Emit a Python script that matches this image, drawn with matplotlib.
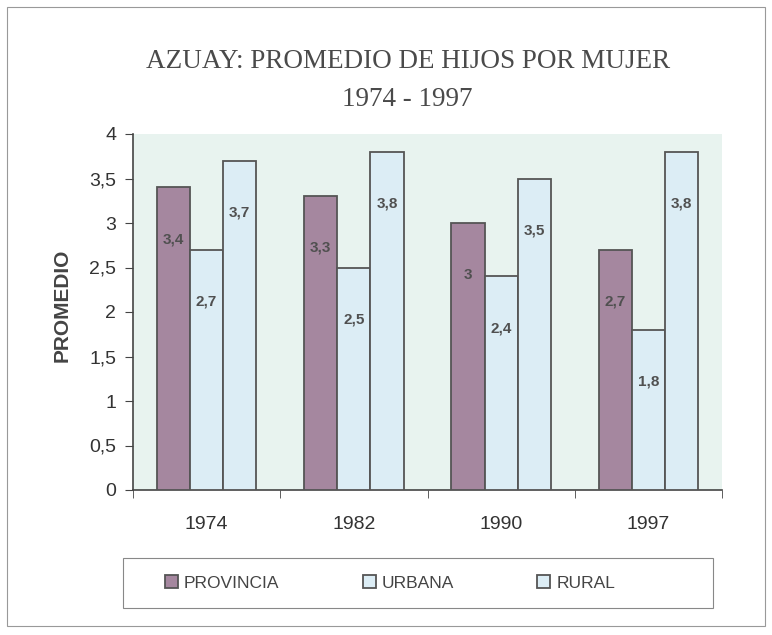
import matplotlib
matplotlib.use("Agg")
import matplotlib.pyplot as plt
import numpy as np

years = ["1974", "1982", "1990", "1997"]
provincia = [3.4, 3.3, 3.0, 2.7]
urbana = [2.7, 2.5, 2.4, 1.8]
rural = [3.7, 3.8, 3.5, 3.8]
series_names = ["PROVINCIA", "URBANA", "RURAL"]
yticks = [0, 0.5, 1, 1.5, 2, 2.5, 3, 3.5, 4]

fig = plt.figure(figsize=(7.72, 6.35), dpi=100)
fig.patch.set_facecolor("white")
W, H = 772, 635
ax = fig.add_axes([133 / W, 1 - 490 / H, (722 - 133) / W, (490 - 134) / H])
ax.set_facecolor("#e8f3ef")

x = np.arange(len(years))
bw = 0.225
cols = ["#a5879f", "#dcedf5", "#dcedf5"]
edge = "#555555"
for i, (vals, c) in enumerate(zip([provincia, urbana, rural], cols)):
    pos = x + (i - 1) * bw
    ax.bar(pos, vals, bw, color=c, edgecolor=edge, linewidth=1.3,
           label=series_names[i], zorder=3)
    for p, v in zip(pos, vals):
        s = ("%g" % v).replace(".", ",")
        ax.text(p, v - 0.58, s, ha="center", va="center", fontsize=11,
                fontweight="bold", color="#505050", family="Liberation Sans",
                zorder=4)

ax.set_xlim(-0.5, len(years) - 0.5)
ax.set_ylim(0, 4)
ax.set_yticks(yticks)
ax.set_yticklabels([("%g" % t).replace(".", ",") for t in yticks],
                   fontsize=14, family="Liberation Sans", color="#333333")
ax.set_xticks(x)
ax.set_xticklabels(years, fontsize=14, family="Liberation Sans", color="#333333")
ax.set_xticks(np.arange(len(years) + 1) - 0.5, minor=True)
ax.tick_params(axis="x", which="major", length=0, pad=19)
ax.tick_params(axis="x", which="minor", length=6, color="#444444", direction="out")
ax.tick_params(axis="y", length=6, color="#444444", direction="out", pad=6)
for s in ["top", "right"]:
    ax.spines[s].set_visible(False)
for s in ["left", "bottom"]:
    ax.spines[s].set_color("#444444")
    ax.spines[s].set_linewidth(1.2)

ax.set_ylabel("PROMEDIO", fontsize=15, fontweight="bold", family="Liberation Sans",
              color="#444444")
ax.yaxis.set_label_coords(-0.104, 0.52)

fig.text(408 / W, 1 - 62 / H, "AZUAY: PROMEDIO DE HIJOS POR MUJER", ha="center",
         va="center", fontsize=19.5, family="Liberation Serif", color="#4a4a4a")
fig.text(407 / W, 1 - 100 / H, "1974 - 1997", ha="center", va="center",
         fontsize=19.5, family="Liberation Serif", color="#4a4a4a")

leg = fig.legend(loc="center", bbox_to_anchor=(390 / W, 1 - 583 / H), ncol=3,
                 frameon=False, columnspacing=4.8, handlelength=0.75,
                 handleheight=0.75, handletextpad=0.35,
                 prop={"family": "Liberation Sans", "size": 12.5})
for t in leg.get_texts():
    t.set_color("#444444")

# legend box
fig.add_artist(plt.Rectangle((123 / W, 1 - 608 / H), (713 - 123) / W, (608 - 558) / H,
                             transform=fig.transFigure, fill=False,
                             edgecolor="#888888", linewidth=0.8))
# outer border
fig.add_artist(plt.Rectangle((7 / W, 1 - 626 / H), (765 - 7) / W, (626 - 7) / H,
                             transform=fig.transFigure, fill=False,
                             edgecolor="#999999", linewidth=0.8))

fig.savefig("out.png", dpi=100)
